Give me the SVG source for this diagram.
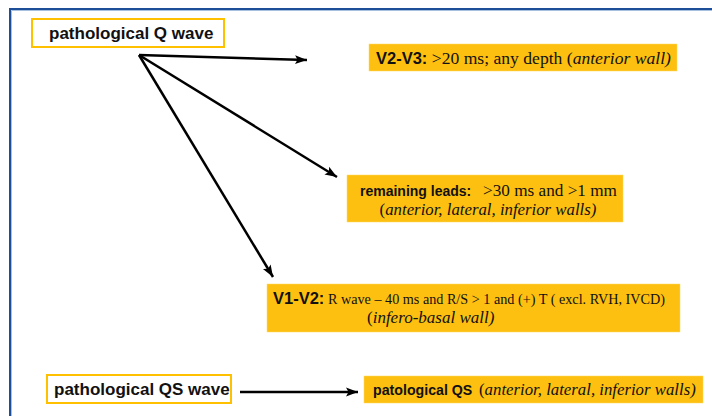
<svg xmlns="http://www.w3.org/2000/svg" width="712" height="416" viewBox="0 0 712 416">
<style>
.frame{fill:none;stroke:#1F4E99;stroke-width:2}
.frame2{fill:none;stroke:#A8C0E0;stroke-width:1}
.obox{fill:#FFFFFF;stroke:#FFC000;stroke-width:2}
.fbox{fill:#FDC010;stroke:#FFD860;stroke-width:0.5}
.ab{font-family:"Liberation Sans",Arial,sans-serif;font-weight:bold;fill:#111}
.cb{font-family:"Liberation Sans",Arial,sans-serif;font-weight:bold;fill:#111}
.sr{font-family:"Liberation Serif","Times New Roman",serif;fill:#111}
.it{font-style:italic}
.conn{fill:none;stroke:#000;stroke-width:2.5}
</style>
<defs>
<marker id="ah" markerUnits="userSpaceOnUse" markerWidth="14" markerHeight="12" viewBox="0 0 14 12" refX="12" refY="6" orient="auto">
<path d="M0,1.5 L12,6 L0,10.5 L2.5,6 Z" fill="#000"/>
</marker>
</defs>
<rect width="712" height="416" fill="#FFFFFF"/>
<path class="frame2" d="M11.5,417 V10.5 H713"/>
<path class="frame" d="M10,417 V9 H713"/>

<g id="connectors">
<line class="conn" x1="139" y1="55" x2="307" y2="60" marker-end="url(#ah)"/>
<line class="conn" x1="139" y1="55" x2="337" y2="177" marker-end="url(#ah)"/>
<line class="conn" x1="139" y1="55" x2="273" y2="277" marker-end="url(#ah)"/>
<line class="conn" x1="240" y1="392" x2="358" y2="392" marker-end="url(#ah)"/>
</g>

<g id="node-q-wave">
<rect class="obox" x="32" y="19" width="192" height="28"/>
<text class="ab" x="49" y="39" font-size="17">pathological Q wave</text>
</g>

<g id="node-v2v3">
<rect class="fbox" x="369" y="44" width="308" height="27"/>
<text x="376" y="64"><tspan class="ab" font-size="16.5">V2-V3:</tspan><tspan class="sr" font-size="17.6"> &gt;20 ms; any depth (</tspan><tspan class="sr it" font-size="17.6">anterior wall)</tspan></text>
</g>

<g id="node-remaining">
<rect class="fbox" x="347" y="175" width="276" height="47"/>
<text x="360" y="196"><tspan class="cb" font-size="14">remaining leads:</tspan><tspan class="sr" x="483" font-size="17.2">&gt;30 ms and &gt;1 mm</tspan></text>
<text x="488" y="215" text-anchor="middle"><tspan class="sr" font-size="16.8">(</tspan><tspan class="sr it" font-size="16.8">anterior, lateral, inferior walls)</tspan></text>
</g>

<g id="node-v1v2">
<rect class="fbox" x="267" y="284" width="413" height="48"/>
<text x="273" y="304"><tspan class="ab" font-size="16.5">V1-V2:</tspan><tspan class="sr" font-size="14.2"> R wave – 40 ms and R/S &gt; 1 and (+) T ( excl. RVH, IVCD)</tspan></text>
<text x="367" y="323"><tspan class="sr" font-size="17">(</tspan><tspan class="sr it" font-size="17">infero-basal wall)</tspan></text>
</g>

<g id="node-qs-wave">
<rect class="obox" x="47" y="375" width="184" height="28"/>
<text class="ab" x="54" y="395" font-size="17">pathological QS wave</text>
</g>

<g id="node-patological-qs">
<rect class="fbox" x="364" y="376" width="339" height="27"/>
<text x="373" y="395"><tspan class="cb" font-size="14.2">patological QS</tspan><tspan class="sr" x="479" font-size="16.8">(</tspan><tspan class="sr it" font-size="16.8">anterior, lateral, inferior walls)</tspan></text>
</g>
</svg>
